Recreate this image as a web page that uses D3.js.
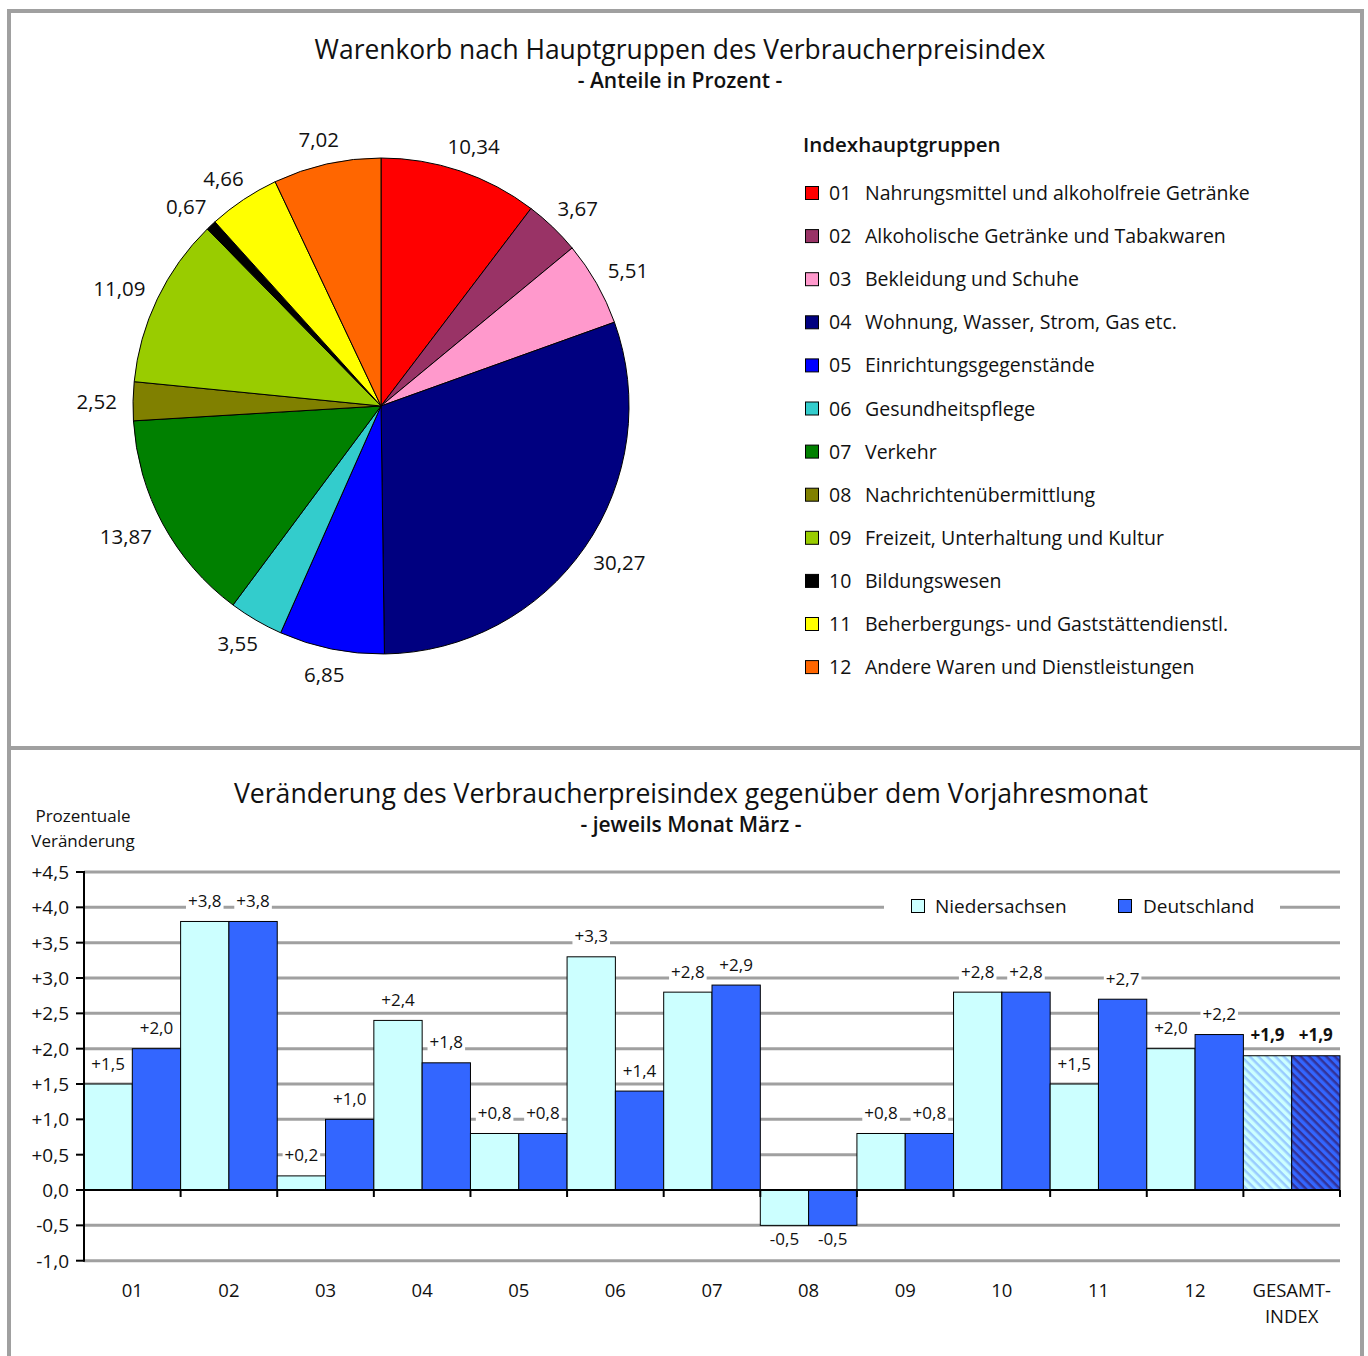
<!DOCTYPE html>
<html><head><meta charset="utf-8">
<script src="https://cdn.jsdelivr.net/npm/d3@7"></script>
<style>
body{margin:0;background:#fff;}
svg text{font-family:"Open Sans","Noto Sans",sans-serif;fill:#111;}
</style></head>
<body>
<svg id="c" width="1368" height="1356"></svg>
<script>
// ---------- DATA ----------
const pieCodes = ["01","02","03","04","05","06","07","08","09","10","11","12"];
const pieNames = ["Nahrungsmittel und alkoholfreie Getränke","Alkoholische Getränke und Tabakwaren","Bekleidung und Schuhe","Wohnung, Wasser, Strom, Gas etc.","Einrichtungsgegenstände","Gesundheitspflege","Verkehr","Nachrichtenübermittlung","Freizeit, Unterhaltung und Kultur","Bildungswesen","Beherbergungs- und Gaststättendienstl.","Andere Waren und Dienstleistungen"];
const pieValues = [10.34,3.67,5.51,30.27,6.85,3.55,13.87,2.52,11.09,0.67,4.66,7.02];
const pieColors = ["#ff0000","#993366","#ff99cc","#000080","#0000ff","#33cccc","#008000","#808000","#99cc00","#000000","#ffff00","#ff6600"];

const barCategories = ["01","02","03","04","05","06","07","08","09","10","11","12","GESAMT-INDEX"];
const seriesNames = ["Niedersachsen","Deutschland"];
const niedersachsen = [1.5,3.8,0.2,2.4,0.8,3.3,2.8,-0.5,0.8,2.8,1.5,2.0,1.9];
const deutschland   = [2.0,3.8,1.0,1.8,0.8,1.4,2.9,-0.5,0.8,2.8,2.7,2.2,1.9];
const yTicks = [-1.0,-0.5,0,0.5,1.0,1.5,2.0,2.5,3.0,3.5,4.0,4.5];

// ---------- SETUP ----------
const svg = d3.select("#c");
const fmt = v => (v>0?"+":"") + v.toFixed(1).replace(".",",");
const fmtPie = v => v.toFixed(2).replace(".",",");

const defs = svg.append("defs");
function hatch(id, base, stripe){
  const p = defs.append("pattern").attr("id",id).attr("patternUnits","userSpaceOnUse")
    .attr("width",6).attr("height",6).attr("patternTransform","rotate(45)");
  p.append("rect").attr("width",6).attr("height",6).attr("fill",base);
  p.append("rect").attr("width",6).attr("height",2.5).attr("fill",stripe);
}
hatch("hatchN","#ccffff","#99ccff");
hatch("hatchD","#3366ff","#333399");

// frame
const frame = svg.append("g").attr("stroke","#a0a0a0").attr("stroke-width",4).attr("fill","none");
frame.append("line").attr("x1",7).attr("x2",1364).attr("y1",11).attr("y2",11);
frame.append("line").attr("x1",9).attr("x2",9).attr("y1",9).attr("y2",1356);
frame.append("line").attr("x1",1362).attr("x2",1362).attr("y1",9).attr("y2",1356);
frame.append("line").attr("x1",9).attr("x2",1362).attr("y1",748).attr("y2",748);

// ---------- PIE ----------
svg.append("text").attr("x",680).attr("y",59).attr("text-anchor","middle")
  .attr("font-size",26.4).text("Warenkorb nach Hauptgruppen des Verbraucherpreisindex");
svg.append("text").attr("x",680).attr("y",88).attr("text-anchor","middle")
  .attr("font-size",21).attr("font-weight",600).text("- Anteile in Prozent -");

const cx=381, cy=406, R=248;
const pieData = pieValues.map((v,i)=>({v,i}));
const arcs = d3.pie().value(d=>d.v).sort(null)(pieData);
const arcGen = d3.arc().innerRadius(0).outerRadius(R);
const pg = svg.append("g").attr("transform",`translate(${cx},${cy})`);
pg.selectAll("path").data(arcs).join("path").attr("d",arcGen)
  .attr("fill",d=>pieColors[d.data.i]).attr("stroke","#000").attr("stroke-width",1);
pg.selectAll("text.pl").data(arcs).join("text").attr("class","pl")
  .attr("font-size",20.5).attr("text-anchor","middle").attr("dominant-baseline","central")
  .text(d=>fmtPie(d.data.v))
  .each(function(d){
    const a=(d.startAngle+d.endAngle)/2, ux=Math.sin(a), uy=-Math.cos(a);
    const w=this.getComputedTextLength()/2, h=10;
    d3.select(this).attr("x",(R+16)*ux + w*ux).attr("y",(R+16)*uy + h*uy);
  });

// pie legend
svg.append("text").attr("x",803).attr("y",152).attr("font-size",20.5).attr("font-weight",600).text("Indexhauptgruppen");
const lg = svg.append("g");
pieCodes.forEach((c,i)=>{
  const y = 193 + i*43.1;
  lg.append("rect").attr("x",805.5).attr("y",y-6.5).attr("width",13).attr("height",13)
    .attr("fill",pieColors[i]).attr("stroke","#000").attr("stroke-width",1);
  lg.append("text").attr("x",829).attr("y",y+7).attr("font-size",19.5).text(c);
  lg.append("text").attr("x",865).attr("y",y+7).attr("font-size",19.5).text(pieNames[i]);
});

// ---------- BARS ----------
svg.append("text").attr("x",691).attr("y",803).attr("text-anchor","middle")
  .attr("font-size",26.6).text("Veränderung des Verbraucherpreisindex gegenüber dem Vorjahresmonat");
svg.append("text").attr("x",691).attr("y",832).attr("text-anchor","middle")
  .attr("font-size",21).attr("font-weight",600).text("- jeweils Monat März -");
svg.append("text").attr("x",83).attr("y",822).attr("text-anchor","middle").attr("font-size",17).text("Prozentuale");
svg.append("text").attr("x",83).attr("y",847).attr("text-anchor","middle").attr("font-size",17).text("Veränderung");

const x0=84, x1=1340;
const y = d3.scaleLinear().domain([-1,4.5]).range([1260.7,872]);
const xb = d3.scaleBand().domain(barCategories).range([x0,x1]).padding(0);
const xs = d3.scaleBand().domain(seriesNames).range([0,xb.bandwidth()]).padding(0);

// gridlines
svg.append("g").selectAll("line").data(yTicks.filter(t=>t!==0)).join("line")
  .attr("x1",x0).attr("x2",x1).attr("y1",d=>y(d)).attr("y2",d=>y(d))
  .attr("stroke","#a0a0a0").attr("stroke-width",3);

// legend (white box over gridline)
const leg = svg.append("g");
leg.append("rect").attr("x",884).attr("y",892).attr("width",396).attr("height",30).attr("fill","#fff");
[["Niedersachsen","#ccffff",911,935],["Deutschland","#3366ff",1118,1143]].forEach(([n,c,sx,tx])=>{
  leg.append("rect").attr("x",sx+0.5).attr("y",899.5).attr("width",13).attr("height",13).attr("fill",c).attr("stroke","#000");
  leg.append("text").attr("x",tx).attr("y",913).attr("font-size",19).text(n);
});

// bars
const bg = svg.append("g");
const series = [niedersachsen, deutschland];
const fills = ["#ccffff","#3366ff"], hfills=["url(#hatchN)","url(#hatchD)"];
const labelG = svg.append("g");
barCategories.forEach((cat,ci)=>{
  series.forEach((vals,si)=>{
    const v = vals[ci];
    const bx = xb(cat)+xs(seriesNames[si]);
    const bw = xs.bandwidth();
    const isTotal = ci===barCategories.length-1;
    bg.append("rect").attr("x",bx).attr("width",bw)
      .attr("y",y(Math.max(0,v))).attr("height",Math.abs(y(v)-y(0)))
      .attr("fill",isTotal?hfills[si]:fills[si]).attr("stroke","#000").attr("stroke-width",1);
    const ty = v>=0 ? y(v)-21 : y(v)+13;
    const g = labelG.append("g");
    const t = g.append("text").attr("x",bx+bw/2).attr("y",ty).attr("text-anchor","middle")
      .attr("dominant-baseline","central").attr("font-size",17)
      .attr("font-weight",isTotal?700:400).text(fmt(v));
    const bb = t.node().getBBox();
    g.insert("rect","text").attr("x",bb.x-2).attr("y",bb.y+1).attr("width",bb.width+4).attr("height",bb.height-2).attr("fill","#fff");
  });
});

// axes
svg.append("line").attr("x1",x0).attr("x2",x1).attr("y1",y(0)).attr("y2",y(0)).attr("stroke","#000").attr("stroke-width",2);
svg.append("line").attr("x1",x0).attr("x2",x0).attr("y1",y(4.5)-1).attr("y2",y(-1)+1).attr("stroke","#000").attr("stroke-width",2);
const ya = svg.append("g");
yTicks.forEach(t=>{
  ya.append("line").attr("x1",x0-8).attr("x2",x0).attr("y1",y(t)).attr("y2",y(t)).attr("stroke","#000").attr("stroke-width",2);
  ya.append("text").attr("x",69).attr("y",y(t)).attr("text-anchor","end").attr("dominant-baseline","central")
    .attr("font-size",19).text(t===0?"0,0":fmt(t));
});
// category ticks
const bounds = barCategories.map(c=>xb(c)).concat([x1]);
svg.append("g").selectAll("line").data(bounds).join("line")
  .attr("x1",d=>d).attr("x2",d=>d).attr("y1",y(0)).attr("y2",y(0)+7).attr("stroke","#000").attr("stroke-width",2);
// category labels
barCategories.forEach(c=>{
  const cxp = xb(c)+xb.bandwidth()/2;
  if(c.includes("-")){
    const parts = c.split("-");
    svg.append("text").attr("x",cxp).attr("y",1297).attr("text-anchor","middle").attr("font-size",18.5).text(parts[0]+"-");
    svg.append("text").attr("x",cxp).attr("y",1323).attr("text-anchor","middle").attr("font-size",18.5).text(parts[1]);
  } else {
    svg.append("text").attr("x",cxp).attr("y",1297).attr("text-anchor","middle").attr("font-size",18.5).text(c);
  }
});
</script>
</body></html>
